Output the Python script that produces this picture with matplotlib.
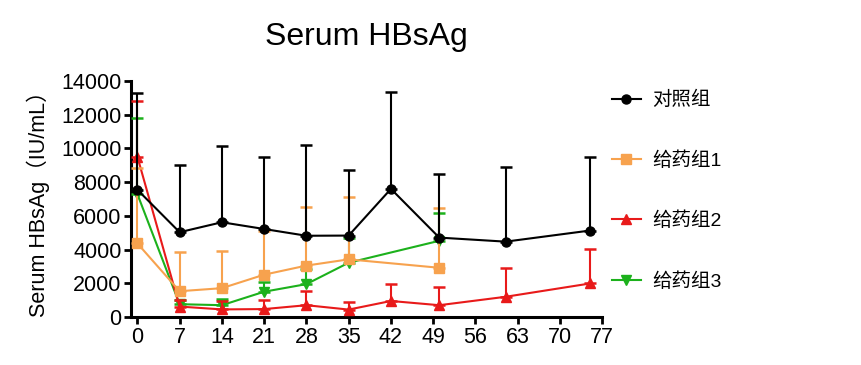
import matplotlib
matplotlib.use("Agg")
import matplotlib.pyplot as plt
from matplotlib.lines import Line2D
import numpy as np

plt.rcParams['font.family'] = ['Liberation Sans', 'Noto Sans CJK SC', 'DejaVu Sans']

# days after dosing
days_ctrl = [0, 7, 14, 21, 28, 35, 42, 50, 61, 75]
days_g1 = [0, 7, 14, 21, 28, 35, 50]
days_g2 = [0, 7, 14, 21, 28, 35, 42, 50, 61, 75]
days_g3 = [0, 7, 14, 21, 28, 35, 50]

# mean and upper SD (IU/mL)
ctrl_mean = [7550, 5030, 5620, 5220, 4820, 4830, 7600, 4710, 4470, 5130]
ctrl_sd = [5750, 4000, 4550, 4280, 5360, 3880, 5730, 3780, 4430, 4360]
g1_mean = [4370, 1530, 1710, 2510, 3050, 3420, 2920]
g1_sd = [4450, 2320, 2230, 2600, 3500, 3720, 3560]
g2_mean = [9520, 620, 450, 470, 700, 440, 950, 700, 1200, 1990]
g2_sd = [3310, 400, 520, 530, 840, 430, 1000, 1060, 1720, 2040]
g3_mean = [7300, 760, 700, 1500, 1950, 3220, 4520]
g3_sd = [4520, 260, 370, 600, 880, 1450, 1640]

labels = ['对照组', '给药组1', '给药组2', '给药组3']
colors = ['#000000', '#F7A24E', '#E81A1A', '#1CB11C']
markers = ['o', 's', '^', 'v']

fig = plt.figure(figsize=(8.61, 3.65), dpi=100)
ax = fig.add_axes([0.1525, 0.1315, 0.547, 0.6466])

series = [(days_g3, g3_mean, g3_sd, 3),
          (days_g2, g2_mean, g2_sd, 2),
          (days_g1, g1_mean, g1_sd, 1),
          (days_ctrl, ctrl_mean, ctrl_sd, 0)]
for x, m, sd, i in series:
    err = [np.zeros(len(sd)), sd]
    ax.errorbar(x, m, yerr=err, color=colors[i], marker=markers[i],
                markersize=6.5, lw=1.5, elinewidth=1.5, capsize=4,
                capthick=1.8, zorder=3 + (3 - i))

ax.set_xlim(-1, 77)
ax.set_ylim(0, 14000)
ax.set_xticks(np.arange(0, 78, 7))
ax.set_yticks(np.arange(0, 14001, 2000))
for s in ['top', 'right']:
    ax.spines[s].set_visible(False)
for s in ['left', 'bottom']:
    ax.spines[s].set_linewidth(2.2)
ax.tick_params(width=2, length=5, labelsize=15.5, pad=2)

ax.set_ylabel('Serum HBsAg（IU/mL）', fontsize=15.5, labelpad=8)
ax.set_title('Serum HBsAg', fontsize=23, pad=26)

handles = [Line2D([], [], color=colors[i], marker=markers[i], markersize=6.5, lw=1.5)
           for i in range(4)]
ax.legend(handles, labels, frameon=False, loc='upper left',
          bbox_to_anchor=(1.005, 0.99), borderaxespad=0, fontsize=14,
          labelspacing=2.15, handlelength=1.45, handletextpad=0.6)

fig.savefig('out.png', dpi=100)
